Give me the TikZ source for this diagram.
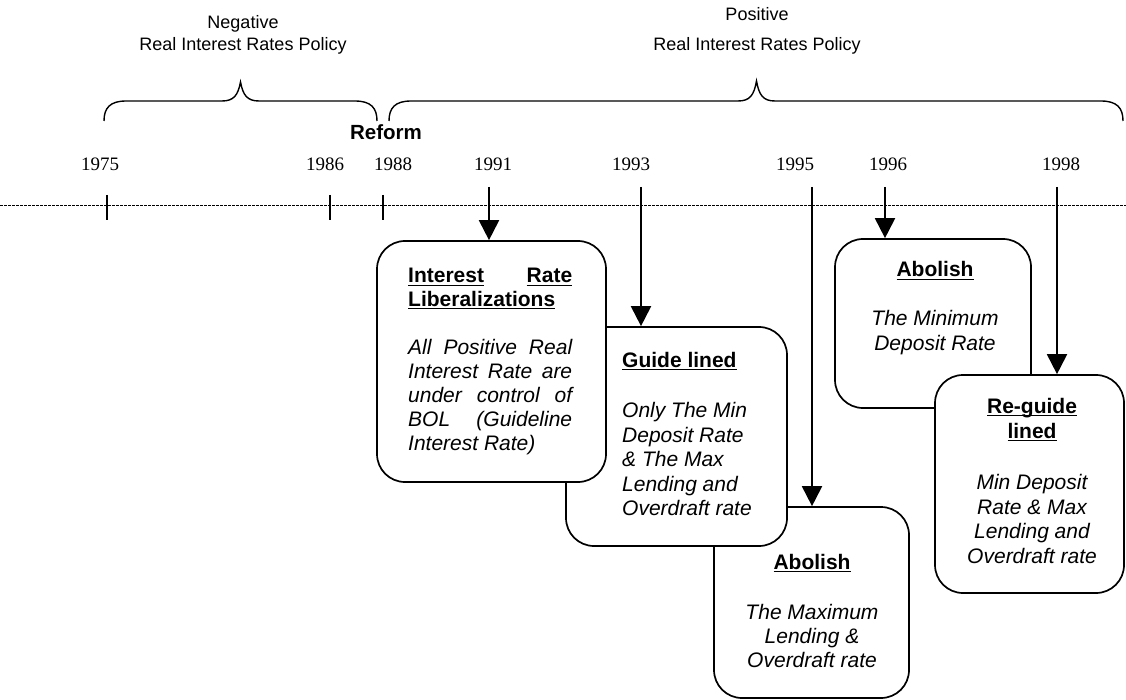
\documentclass[tikz,border=0pt]{standalone}
\usepackage{fontspec}
\setmainfont{Liberation Serif}
\newfontfamily\arialf{Liberation Sans}
\usetikzlibrary{arrows.meta}
\newcommand\myhd[1]{\setbox0\hbox{#1}\rlap{\rule[-3.2pt]{\wd0}{1.6pt}}\box0}
\begin{document}
\begin{tikzpicture}[x=1pt,y=-1pt,
  yr/.style={font=\fontsize{19}{21}\selectfont, inner sep=0, anchor=base},
  ttl/.style={font=\arialf\fontsize{18}{20}\selectfont, inner sep=0, anchor=base},
  hd/.style={font=\arialf\bfseries\fontsize{21}{24}\selectfont, inner sep=0, anchor=base},
  bd/.style={font=\arialf\itshape\fontsize{21}{24}\selectfont, inner sep=0, anchor=base},
  bdl/.style={bd, anchor=base west},
  box/.style={draw, fill=white, rounded corners=28pt, line width=1.7pt, inner sep=0},
  arr/.style={line width=2pt, -{Triangle[length=20pt,width=20pt]}},
  tickmark/.style={line width=2pt},
  brc/.style={line width=1.4pt},
]
\useasboundingbox (0,0) rectangle (1126,700);

% titles
\node[ttl] (neg1) at (243,29) {Negative};
\node[ttl] (neg2) at (243,51) {Real Interest Rates Policy};
\node[ttl] (pos1) at (757,21) {Positive};
\node[ttl] (pos2) at (757,51) {Real Interest Rates Policy};

% braces
\draw[brc] (104,121) .. controls (104,108) and (110,101) .. (126,101)
  -- (222,101) .. controls (234,101) and (238,95) .. (240.5,82)
  .. controls (243,95) and (247,101) .. (259,101)
  -- (355,101) .. controls (371,101) and (377,108) .. (377,121);
\draw[brc] (389,121) .. controls (389,108) and (395,101) .. (411,101)
  -- (738,101) .. controls (750,101) and (754,95) .. (756.5,81)
  .. controls (759,95) and (763,101) .. (775,101)
  -- (1101,101) .. controls (1117,101) and (1123,108) .. (1123,121);

\node[hd, font=\arialf\bfseries\fontsize{20.5}{24}\selectfont] (reform) at (386,140) {Reform};

% years
\node[yr] (y75) at (100,171) {1975};
\node[yr] (y86) at (325,171) {1986};
\node[yr] (y88) at (393,171) {1988};
\node[yr] (y91) at (493,171) {1991};
\node[yr] (y93) at (631,171) {1993};
\node[yr] (y95) at (795,171) {1995};
\node[yr] (y96) at (888,171) {1996};
\node[yr] (y98) at (1061,171) {1998};

% timeline
\coordinate (tl0) at (0,205);
\coordinate (tl1) at (1126,205);
\draw[line width=0.9pt, dash pattern=on 3pt off 1pt] (tl0) -- (tl1);
\coordinate (k75) at (107,195);
\coordinate (k86) at (330,195);
\coordinate (k88) at (383,195);
\draw[tickmark] (k75) -- ++(0,25);
\draw[tickmark] (k86) -- ++(0,25);
\draw[tickmark] (k88) -- ++(0,25);

% boxes (drawing order gives overlap)
\node[box, minimum width=195pt, minimum height=191pt] (am) at (811.5,602.5) {};
\node[box, minimum width=221pt, minimum height=219pt] (gb) at (676.5,436.5) {};
\node[box, minimum width=229pt, minimum height=241pt] (ib) at (491.5,361.5) {};
\node[box, minimum width=196pt, minimum height=169pt] (an) at (933,323.5) {};
\node[box, minimum width=189pt, minimum height=218pt] (rg) at (1029.5,484) {};

% arrows
\coordinate (a91) at (489,187);
\coordinate (a93) at (641,187);
\coordinate (a95) at (812,187);
\coordinate (a96) at (885,187);
\coordinate (a98) at (1057,187);
\draw[arr] (a91) -- (a91 |- ib.north);
\draw[arr] (a93) -- (a93 |- gb.north);
\draw[arr] (a95) -- (a95 |- am.north);
\draw[arr] (a96) -- (a96 |- an.north);
\draw[arr] (a98) -- (a98 |- rg.north);

% Interest Rate Liberalizations box text
\node[hd, anchor=base west] (ib1) at (408,283) {\makebox[164pt][s]{\myhd{Interest}\hfill\myhd{Rate}}};
\node[hd, anchor=base west] (ib2) at (408,306) {\myhd{Liberalizations}};
\node[bdl] (ib3) at (408,354) {\makebox[164pt][s]{All Positive Real}};
\node[bdl] (ib4) at (408,378) {\makebox[164pt][s]{Interest Rate are}};
\node[bdl] (ib5) at (408,402) {\makebox[164pt][s]{under control of}};
\node[bdl] (ib6) at (408,426) {\makebox[164pt][s]{BOL (Guideline}};
\node[bdl] (ib7) at (408,450) {Interest Rate)};

% Guide lined box text
\node[hd, anchor=base west] (gb1) at (622,367) {\myhd{Guide lined}};
\node[bdl] (gb2) at (622,417) {Only The Min};
\node[bdl] (gb3) at (622,442) {Deposit Rate};
\node[bdl] (gb4) at (622,466) {\& The Max};
\node[bdl] (gb5) at (622,491) {Lending and};
\node[bdl] (gb6) at (622,515) {Overdraft rate};

% Abolish (maximum) box text
\node[hd] (am1) at (812,569) {\myhd{Abolish}};
\node[bd] (am2) at (812,619) {The Maximum};
\node[bd] (am3) at (812,643) {Lending \&};
\node[bd] (am4) at (812,667) {Overdraft rate};

% Abolish (minimum) box text
\node[hd] (an1) at (935,277) {\myhd{Abolish}};
\node[bd] (an2) at (935,325) {The Minimum};
\node[bd] (an3) at (935,350) {Deposit Rate};

% Re-guide lined box text
\node[hd] (rg1) at (1032,413) {\myhd{Re-guide}};
\node[hd] (rg2) at (1032,438) {\myhd{lined}};
\node[bd] (rg3) at (1032,489) {Min Deposit};
\node[bd] (rg4) at (1032,514) {Rate \& Max};
\node[bd] (rg5) at (1032,538) {Lending and};
\node[bd] (rg6) at (1032,563) {Overdraft rate};
\end{tikzpicture}
\end{document}
